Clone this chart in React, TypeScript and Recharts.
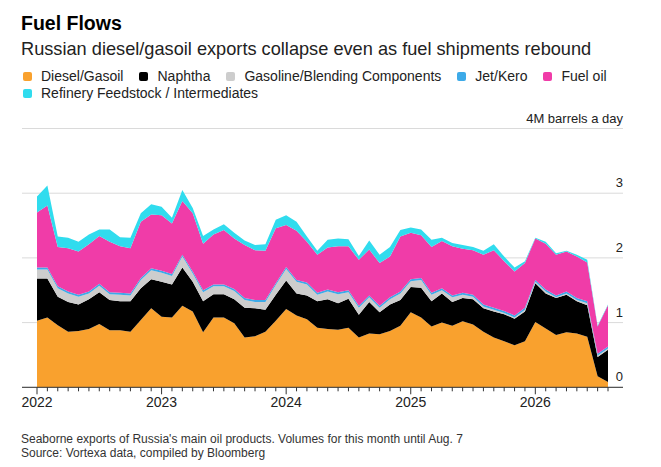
import { AreaChart, Area, XAxis, YAxis, CartesianGrid } from 'recharts';

const months = [
  '2022-01', '2022-02', '2022-03', '2022-04', '2022-05', '2022-06', '2022-07', '2022-08', '2022-09', '2022-10', '2022-11', '2022-12',
  '2023-01', '2023-02', '2023-03', '2023-04', '2023-05', '2023-06', '2023-07', '2023-08', '2023-09', '2023-10', '2023-11', '2023-12',
  '2024-01', '2024-02', '2024-03', '2024-04', '2024-05', '2024-06', '2024-07', '2024-08', '2024-09', '2024-10', '2024-11', '2024-12',
  '2025-01', '2025-02', '2025-03', '2025-04', '2025-05', '2025-06', '2025-07', '2025-08', '2025-09', '2025-10', '2025-11', '2025-12',
  '2026-01', '2026-02', '2026-03', '2026-04', '2026-05', '2026-06', '2026-07', '2026-08',
];

// million barrels a day
const diesel = [
  1.03, 1.08, 0.96, 0.86, 0.87, 0.9, 0.98, 0.88, 0.88, 0.86, 1.04, 1.22,
  1.09, 1.08, 1.26, 1.17, 0.85, 1.08, 1.08, 0.99, 0.77, 0.79, 0.86, 1.03,
  1.21, 1.11, 1.05, 0.92, 0.9, 0.89, 0.92, 0.77, 0.83, 0.82, 0.87, 0.95,
  1.16, 1.08, 0.94, 1.0, 0.95, 1.02, 0.97, 0.86, 0.77, 0.71, 0.65, 0.71,
  1.01, 0.91, 0.81, 0.85, 0.83, 0.78, 0.17, 0.08,
];
const naphtha = [
  0.65, 0.6, 0.44, 0.46, 0.41, 0.46, 0.49, 0.47, 0.45, 0.47, 0.49, 0.45,
  0.54, 0.51, 0.59, 0.46, 0.48, 0.36, 0.36, 0.37, 0.46, 0.43, 0.34, 0.4,
  0.44, 0.34, 0.37, 0.41, 0.46, 0.41, 0.45, 0.35, 0.49, 0.34, 0.41, 0.4,
  0.39, 0.46, 0.39, 0.45, 0.37, 0.36, 0.39, 0.36, 0.4, 0.42, 0.41, 0.46,
  0.6, 0.54, 0.57, 0.58, 0.5, 0.49, 0.3, 0.5,
];
const gasoline = [
  0.14, 0.14, 0.13, 0.13, 0.12, 0.09, 0.1, 0.09, 0.1, 0.09, 0.13, 0.14,
  0.14, 0.13, 0.17, 0.13, 0.14, 0.12, 0.12, 0.13, 0.12, 0.1, 0.12, 0.15,
  0.18, 0.18, 0.17, 0.1, 0.12, 0.14, 0.1, 0.11, 0.07, 0.07, 0.08, 0.1,
  0.09, 0.12, 0.1, 0.05, 0.07, 0.05, 0.04, 0.03, 0.03, 0.02, 0.02, 0.03,
  0.02, 0.03, 0.01, 0.02, 0.02, 0.03, 0.02, 0.02,
];
const jetKero = [
  0.03, 0.03, 0.03, 0.03, 0.03, 0.03, 0.03, 0.03, 0.03, 0.03, 0.03, 0.03,
  0.03, 0.03, 0.03, 0.03, 0.03, 0.03, 0.03, 0.03, 0.03, 0.03, 0.03, 0.03,
  0.03, 0.03, 0.03, 0.03, 0.03, 0.03, 0.03, 0.03, 0.03, 0.03, 0.03, 0.03,
  0.03, 0.03, 0.03, 0.03, 0.03, 0.03, 0.03, 0.03, 0.03, 0.03, 0.03, 0.03,
  0.03, 0.03, 0.03, 0.03, 0.03, 0.03, 0.03, 0.03,
];
const fuelOil = [
  0.85, 0.96, 0.61, 0.67, 0.67, 0.73, 0.74, 0.78, 0.72, 0.7, 0.87, 0.83,
  0.86, 0.78, 0.83, 0.9, 0.72, 0.77, 0.84, 0.78, 0.82, 0.77, 0.76, 0.85,
  0.65, 0.76, 0.63, 0.59, 0.65, 0.71, 0.68, 0.71, 0.71, 0.66, 0.63, 0.85,
  0.72, 0.66, 0.71, 0.73, 0.76, 0.68, 0.69, 0.77, 0.89, 0.77, 0.68, 0.69,
  0.64, 0.71, 0.63, 0.62, 0.64, 0.6, 0.42, 0.64,
];
const feedstock = [
  0.25, 0.31, 0.16, 0.16, 0.15, 0.15, 0.1, 0.19, 0.14, 0.16, 0.13, 0.16,
  0.13, 0.09, 0.17, 0.08, 0.12, 0.08, 0.09, 0.09, 0.07, 0.08, 0.1, 0.13,
  0.15, 0.14, 0.08, 0.06, 0.12, 0.12, 0.11, 0.06, 0.14, 0.13, 0.15, 0.1,
  0.08, 0.09, 0.11, 0.05, 0.05, 0.06, 0.05, 0.06, 0.09, 0.07, 0.06, 0.03,
  0.01, 0.03, 0.02, 0.01, 0.03, 0.04, 0.01, 0.01,
];

const yTicks = [0, 1, 2, 3, 4];

const series = [
  { key: 'diesel', name: 'Diesel/Gasoil', color: '#F9A12E' },
  { key: 'naphtha', name: 'Naphtha', color: '#000000' },
  { key: 'gasoline', name: 'Gasoline/Blending Components', color: '#CDCDCD' },
  { key: 'jetKero', name: 'Jet/Kero', color: '#3DAAE8' },
  { key: 'fuelOil', name: 'Fuel oil', color: '#F03CA8' },
  { key: 'feedstock', name: 'Refinery Feedstock / Intermediates', color: '#30DCEE' },
];

const data = months.map((month, i) => ({
  m: i,
  month,
  diesel: diesel[i],
  naphtha: naphtha[i],
  gasoline: gasoline[i],
  jetKero: jetKero[i],
  fuelOil: fuelOil[i],
  feedstock: feedstock[i],
}));

const FONT = '"Liberation Sans", Arial, Helvetica, sans-serif';

function MonthTick(props: any) {
  const { x, y, payload } = props;
  const label = months[payload.value] || '';
  const isJan = label.endsWith('-01');
  return (
    <g>
      <line x1={x} x2={x} y1={y} y2={y + (isJan ? 7 : 4)} stroke="#333" strokeWidth={1} />
      {isJan && (
        <text x={x} y={y + 20} textAnchor="middle" fontSize={14} fill="#222" fontFamily={FONT}>
          {label.slice(0, 4)}
        </text>
      )}
    </g>
  );
}

function ValueTick(props: any) {
  const { x, y, payload } = props;
  const text = payload.value === 4 ? '4M barrels a day' : String(payload.value);
  return (
    <text x={x} y={y - 6} textAnchor="end" fontSize={13} fill="#222" fontFamily={FONT}>
      {text}
    </text>
  );
}

function LegendItem({ name, color }: { name: string; color: string }) {
  return (
    <span style={{ display: 'inline-flex', alignItems: 'center', marginRight: 16 }}>
      <span style={{ width: 9, height: 9, background: color, borderRadius: 2, marginRight: 9, display: 'inline-block' }} />
      {name}
    </span>
  );
}

export default function App() {
  const ticks = months.map((_, i) => i);
  return (
    <div style={{ position: 'absolute', left: 0, top: 0, width: 661, height: 467, background: '#fff', fontFamily: FONT, color: '#222' }}>
      <div style={{ position: 'absolute', left: 21, top: 13, fontSize: 19.5, lineHeight: '20px', fontWeight: 700, color: '#000', whiteSpace: 'nowrap' }}>
        Fuel Flows
      </div>
      <div style={{ position: 'absolute', left: 21, top: 40, fontSize: 18.2, lineHeight: '18px', whiteSpace: 'nowrap' }}>
        Russian diesel/gasoil exports collapse even as fuel shipments rebound
      </div>
      <div style={{ position: 'absolute', left: 23, top: 69, fontSize: 14, lineHeight: '14px', whiteSpace: 'nowrap', display: 'flex' }}>
        {series.slice(0, 5).map((s) => (
          <LegendItem key={s.key} name={s.name} color={s.color} />
        ))}
      </div>
      <div style={{ position: 'absolute', left: 23, top: 86, fontSize: 14, lineHeight: '14px', whiteSpace: 'nowrap', display: 'flex' }}>
        {series.slice(5).map((s) => (
          <LegendItem key={s.key} name={s.name} color={s.color} />
        ))}
      </div>

      <div style={{ position: 'absolute', left: 0, top: 0 }}>
        <AreaChart width={661} height={467} data={data} margin={{ top: 128.5, right: 0, left: 22, bottom: 49.7 }}>
          <CartesianGrid vertical={false} stroke="#DADADA" />
          <XAxis
            type="number"
            dataKey="m"
            domain={[0, 55]}
            ticks={ticks}
            interval={0}
            padding={{ left: 15, right: 15 }}
            height={30}
            tickSize={0}
            tickMargin={0}
            tickLine={false}
            axisLine={{ stroke: '#333', strokeWidth: 1 }}
            tick={<MonthTick />}
          />
          <YAxis
            orientation="right"
            domain={[0, 4]}
            ticks={yTicks}
            width={38}
            tickSize={0}
            tickMargin={0}
            tickLine={false}
            axisLine={false}
            tick={<ValueTick />}
          />
          {series.map((s) => (
            <Area
              key={s.key}
              type="linear"
              dataKey={s.key}
              stackId="1"
              stroke="none"
              fill={s.color}
              fillOpacity={1}
              isAnimationActive={false}
            />
          ))}
        </AreaChart>
      </div>

      <div style={{ position: 'absolute', left: 21, top: 432, fontSize: 12, lineHeight: '14px', color: '#333', whiteSpace: 'nowrap' }}>
        Seaborne exports of Russia's main oil products. Volumes for this month until Aug. 7
        <br />
        Source: Vortexa data, compiled by Bloomberg
      </div>
    </div>
  );
}
